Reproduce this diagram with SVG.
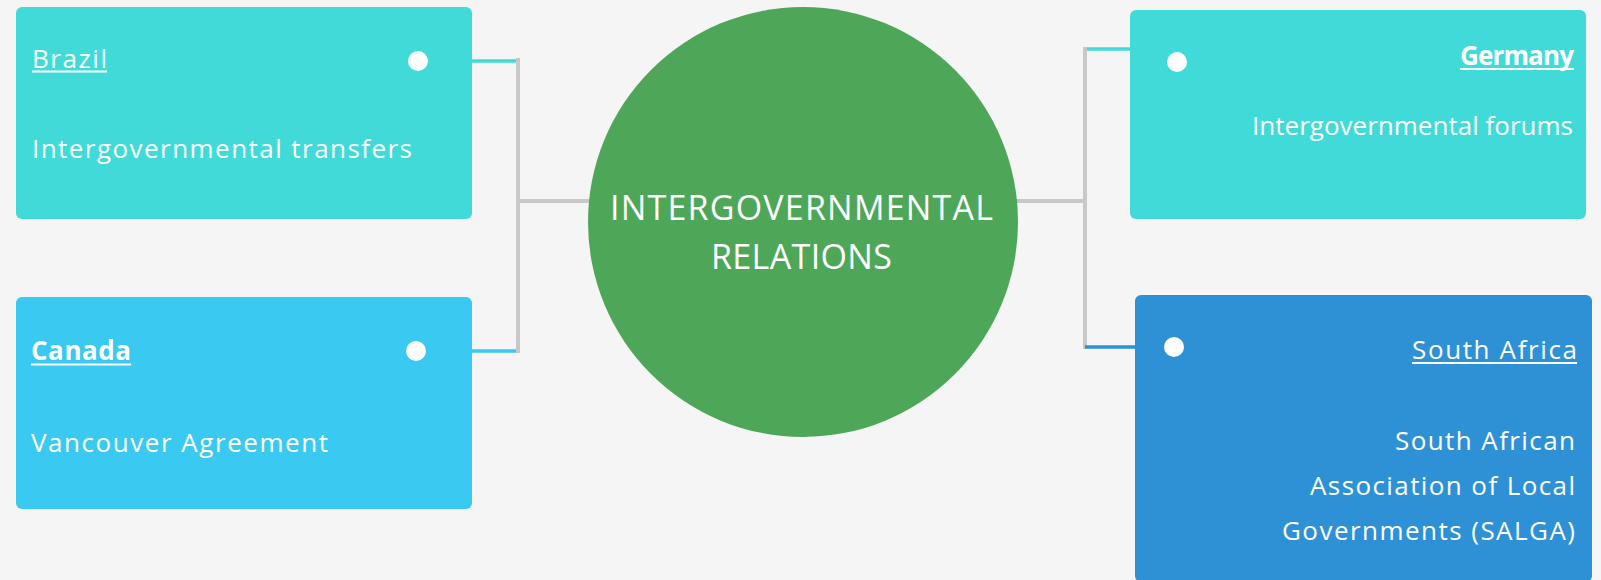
<svg xmlns="http://www.w3.org/2000/svg" width="1601" height="580" viewBox="0 0 1601 580">
  <style>
    .bg { fill: #f5f5f5; }
    .txt { font-family: "Open Sans", "Noto Sans", "Liberation Sans", sans-serif; fill: #ffffff; font-size: 26px; }
    .bold { font-weight: bold; }
    .hub { font-size: 34px; }
    .ul { stroke: #ffffff; stroke-width: 2; }
    .dot { fill: #ffffff; }
    .trunk { stroke: #c8c8c8; stroke-width: 4; fill: none; }
    .box-teal { fill: #40dbd8; }
    .box-sky { fill: #3ac9f0; }
    .box-blue { fill: #2e91d6; }
  </style>

  <rect class="bg" x="0" y="0" width="1601" height="580"/>

  <!-- connectors -->
  <g id="connectors">
    <line class="trunk" x1="518" y1="58" x2="518" y2="353"/>
    <line class="trunk" x1="518" y1="201" x2="590" y2="201"/>
    <line class="trunk" x1="1085" y1="47" x2="1085" y2="349"/>
    <line class="trunk" x1="1015" y1="201" x2="1085" y2="201"/>
    <line x1="470" y1="61" x2="516" y2="61" stroke="#40dbd8" stroke-width="3.5"/>
    <line x1="470" y1="351" x2="516" y2="351" stroke="#3ac9f0" stroke-width="3.5"/>
    <line x1="1087" y1="49" x2="1132" y2="49" stroke="#40dbd8" stroke-width="3.5"/>
    <line x1="1085" y1="347" x2="1137" y2="347" stroke="#2e91d6" stroke-width="3.5"/>
  </g>

  <!-- central topic -->
  <g id="hub">
    <circle cx="803" cy="222" r="215" fill="#4ea758"/>
    <text class="txt hub" x="610" y="220" textLength="383" lengthAdjust="spacing">INTERGOVERNMENTAL</text>
    <text class="txt hub" x="711" y="269" textLength="181" lengthAdjust="spacing">RELATIONS</text>
  </g>

  <!-- Brazil -->
  <g id="brazil">
    <rect class="box-teal" x="16" y="7" width="456" height="212" rx="6"/>
    <circle class="dot" cx="418" cy="61" r="10"/>
    <text class="txt" x="32" y="68" textLength="75" lengthAdjust="spacing">Brazil</text>
    <line class="ul" x1="32" y1="71.5" x2="107" y2="71.5"/>
    <text class="txt" x="32" y="158" textLength="380" lengthAdjust="spacing">Intergovernmental transfers</text>
  </g>

  <!-- Canada -->
  <g id="canada">
    <rect class="box-sky" x="16" y="297" width="456" height="212" rx="6"/>
    <circle class="dot" cx="416" cy="351" r="10"/>
    <text class="txt bold" x="31" y="360" textLength="100" lengthAdjust="spacing">Canada</text>
    <line class="ul" x1="31" y1="364.5" x2="131" y2="364.5"/>
    <text class="txt" x="31" y="452" textLength="297" lengthAdjust="spacing">Vancouver Agreement</text>
  </g>

  <!-- Germany -->
  <g id="germany">
    <rect class="box-teal" x="1130" y="10" width="456" height="209" rx="6"/>
    <circle class="dot" cx="1177" cy="62" r="10"/>
    <text class="txt bold" x="1460" y="65" textLength="114" lengthAdjust="spacing">Germany</text>
    <line class="ul" x1="1460" y1="69" x2="1574" y2="69"/>
    <text class="txt" x="1252" y="135" textLength="321" lengthAdjust="spacing">Intergovernmental forums</text>
  </g>

  <!-- South Africa -->
  <g id="south-africa">
    <rect class="box-blue" x="1135" y="295" width="457" height="287" rx="6"/>
    <circle class="dot" cx="1174" cy="347" r="10"/>
    <text class="txt" x="1412" y="359" textLength="165" lengthAdjust="spacing">South Africa</text>
    <line class="ul" x1="1412" y1="363" x2="1577" y2="363"/>
    <text class="txt" x="1395" y="450" textLength="180" lengthAdjust="spacing">South African</text>
    <text class="txt" x="1310" y="495" textLength="265" lengthAdjust="spacing">Association of Local</text>
    <text class="txt" x="1282" y="540" textLength="293" lengthAdjust="spacing">Governments (SALGA)</text>
  </g>
</svg>
